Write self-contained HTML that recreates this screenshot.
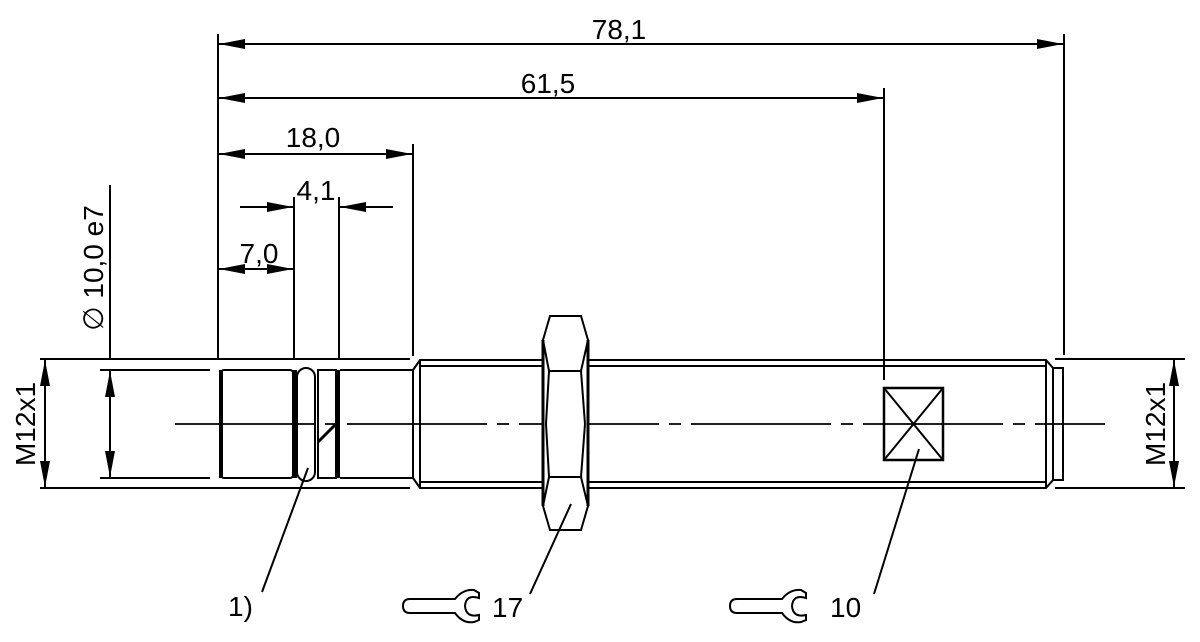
<!DOCTYPE html>
<html><head><meta charset="utf-8"><style>
html,body{margin:0;padding:0;background:#fff;}
svg{display:block;}
text{font-family:"Liberation Sans",Arial,sans-serif;font-size:28px;fill:#000;}
</style></head><body>
<svg width="1200" height="642" viewBox="0 0 1200 642" xmlns="http://www.w3.org/2000/svg">
<defs>
<marker id="a" viewBox="0 0 26 10" refX="26" refY="5" markerWidth="26" markerHeight="10" markerUnits="userSpaceOnUse" orient="auto-start-reverse">
<path d="M0,0 L26,5 L0,10 Z" fill="#000"/></marker>
</defs>
<g stroke="#000" stroke-width="2" fill="none">
<line x1="218" y1="34" x2="218" y2="360"/>
<line x1="1064" y1="34" x2="1064" y2="355"/>
<line x1="884" y1="88" x2="884" y2="380"/>
<line x1="413" y1="144" x2="413" y2="356"/>
<line x1="294" y1="197" x2="294" y2="358"/>
<line x1="339" y1="197" x2="339" y2="358"/>
<line x1="219" y1="44" x2="1063" y2="44" marker-start="url(#a)" marker-end="url(#a)"/>
<line x1="219" y1="98" x2="883" y2="98" marker-start="url(#a)" marker-end="url(#a)"/>
<line x1="219" y1="154" x2="412" y2="154" marker-start="url(#a)" marker-end="url(#a)"/>
<line x1="240" y1="207" x2="293" y2="207" marker-end="url(#a)"/>
<line x1="393" y1="207" x2="340" y2="207" marker-end="url(#a)"/>
<line x1="219" y1="269" x2="293" y2="269" marker-start="url(#a)" marker-end="url(#a)"/>
<line x1="40" y1="359" x2="410" y2="359"/>
<line x1="40" y1="488" x2="410" y2="488"/>
<line x1="45" y1="360" x2="45" y2="487" marker-start="url(#a)" marker-end="url(#a)"/>
<line x1="100" y1="370" x2="210" y2="370"/>
<line x1="100" y1="478" x2="210" y2="478"/>
<line x1="110" y1="185" x2="110" y2="359"/>
<line x1="110" y1="371" x2="110" y2="477" marker-start="url(#a)" marker-end="url(#a)"/>
<line x1="1055" y1="359" x2="1185" y2="359"/>
<line x1="1055" y1="488" x2="1185" y2="488"/>
<line x1="1174" y1="360" x2="1174" y2="487" marker-start="url(#a)" marker-end="url(#a)"/>
<line x1="175" y1="424" x2="1105" y2="424" stroke-dasharray="140,10,12,10" stroke-width="1.8"/>
<rect x="221" y="370" width="72" height="108" rx="3"/>
<line x1="221" y1="370" x2="221" y2="478" stroke-width="4"/>
<line x1="295" y1="370" x2="295" y2="478" stroke-width="4"/>
<rect x="297" y="368" width="18" height="113" rx="9"/>
<rect x="318" y="370" width="18" height="108"/>
<line x1="338" y1="370" x2="338" y2="478" stroke-width="4"/>
<line x1="318" y1="442" x2="336" y2="424" stroke-width="3"/>
<line x1="340" y1="370" x2="413" y2="370"/>
<line x1="340" y1="478" x2="413" y2="478"/>
<path d="M413,370 L420,360 L1046,360 L1053,368 L1053,480 L1046,488 L420,488 L413,478 Z"/>
<line x1="420" y1="366" x2="1046" y2="366"/>
<line x1="420" y1="482" x2="1046" y2="482"/>
<line x1="420" y1="360" x2="420" y2="488"/>
<line x1="1046" y1="360" x2="1046" y2="488"/>
<rect x="1053" y="368" width="10" height="112"/>
<path d="M550,316 L581,316 L588,340 L588,506 L581,530 L550,530 L543,506 L543,340 Z" fill="#fff"/>
<line x1="543" y1="340" x2="543" y2="506" stroke-width="3"/>
<line x1="588" y1="340" x2="588" y2="506" stroke-width="3"/>
<path d="M543,340 L549,371 L581,371 L588,340"/>
<path d="M543,506 L549,477 L581,477 L588,506"/>
<line x1="549" y1="371" x2="546" y2="424"/><line x1="546" y1="424" x2="549" y2="477"/>
<line x1="581" y1="371" x2="585" y2="424"/><line x1="585" y1="424" x2="581" y2="477"/>
<rect x="884" y="388" width="59" height="72" stroke-width="2.5"/>
<line x1="884" y1="388" x2="943" y2="460"/>
<line x1="943" y1="388" x2="884" y2="460"/>
<line x1="308" y1="468" x2="262" y2="592"/>
<line x1="571" y1="504" x2="530" y2="594"/>
<line x1="919" y1="449" x2="874" y2="594"/>
<path d="M455,599 L410,599 Q403,599 403,606 Q403,613 410,613 L455,613 Q463,624 474,622 L479,620 L479,615 Q466,618 465,606 Q466,594 479,598 L479,593 L474,590 Q463,589 455,599 Z"/>
<path d="M782,599 L737,599 Q730,599 730,606 Q730,613 737,613 L782,613 Q790,624 801,622 L806,620 L806,615 Q793,618 792,606 Q793,594 806,598 L806,593 L801,590 Q790,589 782,599 Z"/>
</g>
<text x="619" y="39" text-anchor="middle">78,1</text>
<text x="548" y="93" text-anchor="middle">61,5</text>
<text x="313" y="147" text-anchor="middle">18,0</text>
<text x="316" y="200" text-anchor="middle">4,1</text>
<text x="259" y="263" text-anchor="middle">7,0</text>
<text x="228" y="616">1)</text>
<text x="492" y="617">17</text>
<text x="830" y="617">10</text>
<text transform="translate(35,424) rotate(-90)" text-anchor="middle">M12x1</text>
<text transform="translate(1165,424) rotate(-90)" text-anchor="middle">M12x1</text>
<text transform="translate(103,268) rotate(-90)" text-anchor="middle">∅ 10,0 e7</text>
</svg>
</body></html>
